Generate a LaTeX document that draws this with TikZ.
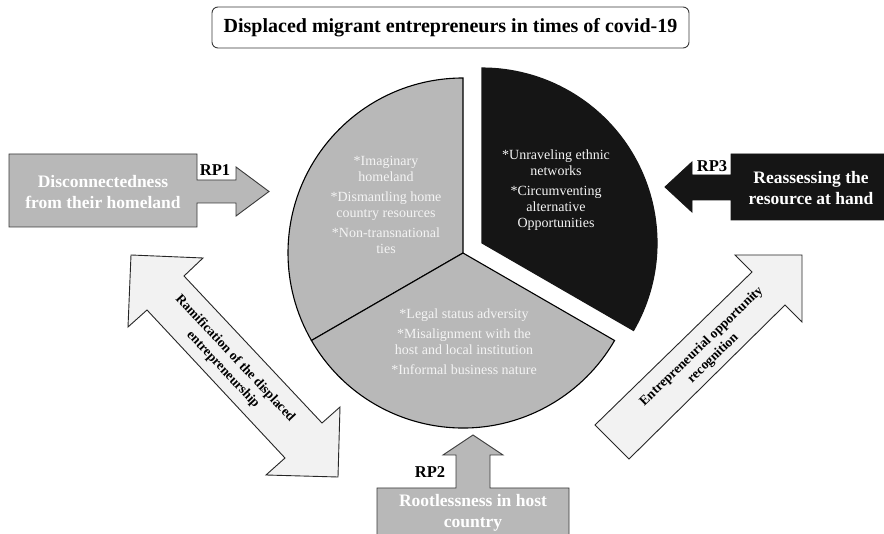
\documentclass[tikz,border=0pt]{standalone}
\usepackage{fontspec}
\setmainfont{Liberation Serif}
\definecolor{sliceGray}{HTML}{B8B8B8}
\definecolor{sliceDark}{HTML}{151515}
\definecolor{paleFill}{HTML}{F2F2F2}
\definecolor{softWhite}{HTML}{F4F4F4}
\definecolor{edgeGray}{HTML}{3A3A3A}

\tikzset{
  graySlice/.style={fill=sliceGray, draw=black, line width=1.1pt, line join=miter},
  darkSlice/.style={fill=sliceDark, draw=sliceDark, line width=1.1pt},
  sliceText/.style={text=softWhite, align=center, inner sep=0pt,
    font=\fontsize{14}{16}\selectfont},
  grayArrow/.style={fill=sliceGray, draw=edgeGray, line width=0.9pt},
  darkArrow/.style={fill=sliceDark, draw=sliceDark, line width=0.9pt},
  paleArrow/.style={fill=paleFill, draw=black!85, line width=0.9pt, line join=miter},
  arrowLabel/.style={text=white, align=center, inner sep=0pt,
    font=\bfseries\fontsize{17.5}{20.5}\selectfont},
  rpLabel/.style={text=black, inner sep=0pt, font=\bfseries\fontsize{16.5}{19}\selectfont},
  diagLabel/.style={text=black, align=center, inner sep=0pt,
    font=\bfseries\fontsize{13.5}{16.5}\selectfont},
  titleBox/.style={draw=edgeGray, line width=0.9pt, rounded corners=6pt,
    minimum width=477pt, minimum height=41pt, inner sep=0pt,
    font=\bfseries\fontsize{20}{24}\selectfont}
}

\begin{document}
\begin{tikzpicture}[x=1pt, y=-1pt]
  \useasboundingbox (0,0) rectangle (884,534);
  \clip (0,0) rectangle (884,534);
  \fill[white] (0,0) rectangle (884,534);

  % heading
  \node[titleBox] (title) at (450.5,27.5) {Displaced migrant entrepreneurs in times of covid-19};

  % three-part pie, the dark slice pulled out to the upper right
  \coordinate (pc) at (463,253);
  \coordinate (dc) at (482,243);
  \path[graySlice] (pc) -- ++(-90:175) arc[start angle=-90, end angle=-210, radius=175] -- cycle;
  \path[graySlice] (pc) -- ++(-210:175) arc[start angle=-210, end angle=-330, radius=175] -- cycle;
  \path[darkSlice] (dc) -- ++(30:175) arc[start angle=30, end angle=-90, radius=175] -- cycle;

  \node[sliceText] (homeTxt) at (386,205)
    {*Imaginary\\homeland\\[4pt]*Dismantling home\\country resources\\[4pt]*Non-transnational\\ties};
  \node[sliceText] (netTxt) at (556,190)
    {*Unraveling ethnic\\networks\\[4pt]*Circumventing\\alternative\\Opportunities};
  \node[sliceText] (hostTxt) at (464,342)
    {*Legal status adversity\\[4pt]*Misalignment with the\\host and local institution\\[4pt]*Informal business nature};

  % RP1 block arrow from the left
  \path[grayArrow] (9,154) -- (197,154) -- (197,180) -- (236,180) -- (236,167)
    -- (269,191.5) -- (236,216) -- (236,203) -- (197,203) -- (197,227) -- (9,227) -- cycle;
  \node[arrowLabel] (rp1Txt) at (103,192) {Disconnectedness\\from their homeland};
  \node[rpLabel] (rp1) at (215,170) {RP1};

  % RP3 block arrow from the right
  \path[darkArrow] (888,154) -- (731,154) -- (731,175) -- (692,175) -- (692,162)
    -- (665,187) -- (692,212) -- (692,200) -- (731,200) -- (731,220) -- (888,220) -- cycle;
  \node[arrowLabel] (rp3Txt) at (811,188) {Reassessing the\\resource at hand};
  \node[rpLabel] (rp3) at (712,166) {RP3};

  % RP2 block arrow from below
  \path[grayArrow] (377,545) -- (377,488) -- (456,488) -- (456,455) -- (443,455)
    -- (473,435) -- (503,455) -- (490,455) -- (490,488) -- (569,488) -- (569,545) -- cycle;
  \node[arrowLabel] (rp2Txt) at (473,513) {Rootlessness in host\\country};
  \node[rpLabel] (rp2) at (430,472) {RP2};

  % double-headed diagonal arrow on the left
  \path[paleArrow] (131,255) -- (203,258) -- (184,276) -- (322,423) -- (340,407)
    -- (338,477) -- (266,475) -- (285,458) -- (147,310) -- (128,327) -- cycle;
  \node[diagLabel, rotate=-47] (ramTxt) at (229,364)
    {Ramification of the displaced\\entrepreneurship};

  % single diagonal arrow on the right
  \path[paleArrow] (595,425) -- (752,272) -- (735,255) -- (802,255) -- (802,322)
    -- (785,305) -- (629,459) -- cycle;
  \node[diagLabel, rotate=44] (eorTxt) at (707.5,352.5)
    {Entrepreneurial opportunity\\recognition};
\end{tikzpicture}
\end{document}
